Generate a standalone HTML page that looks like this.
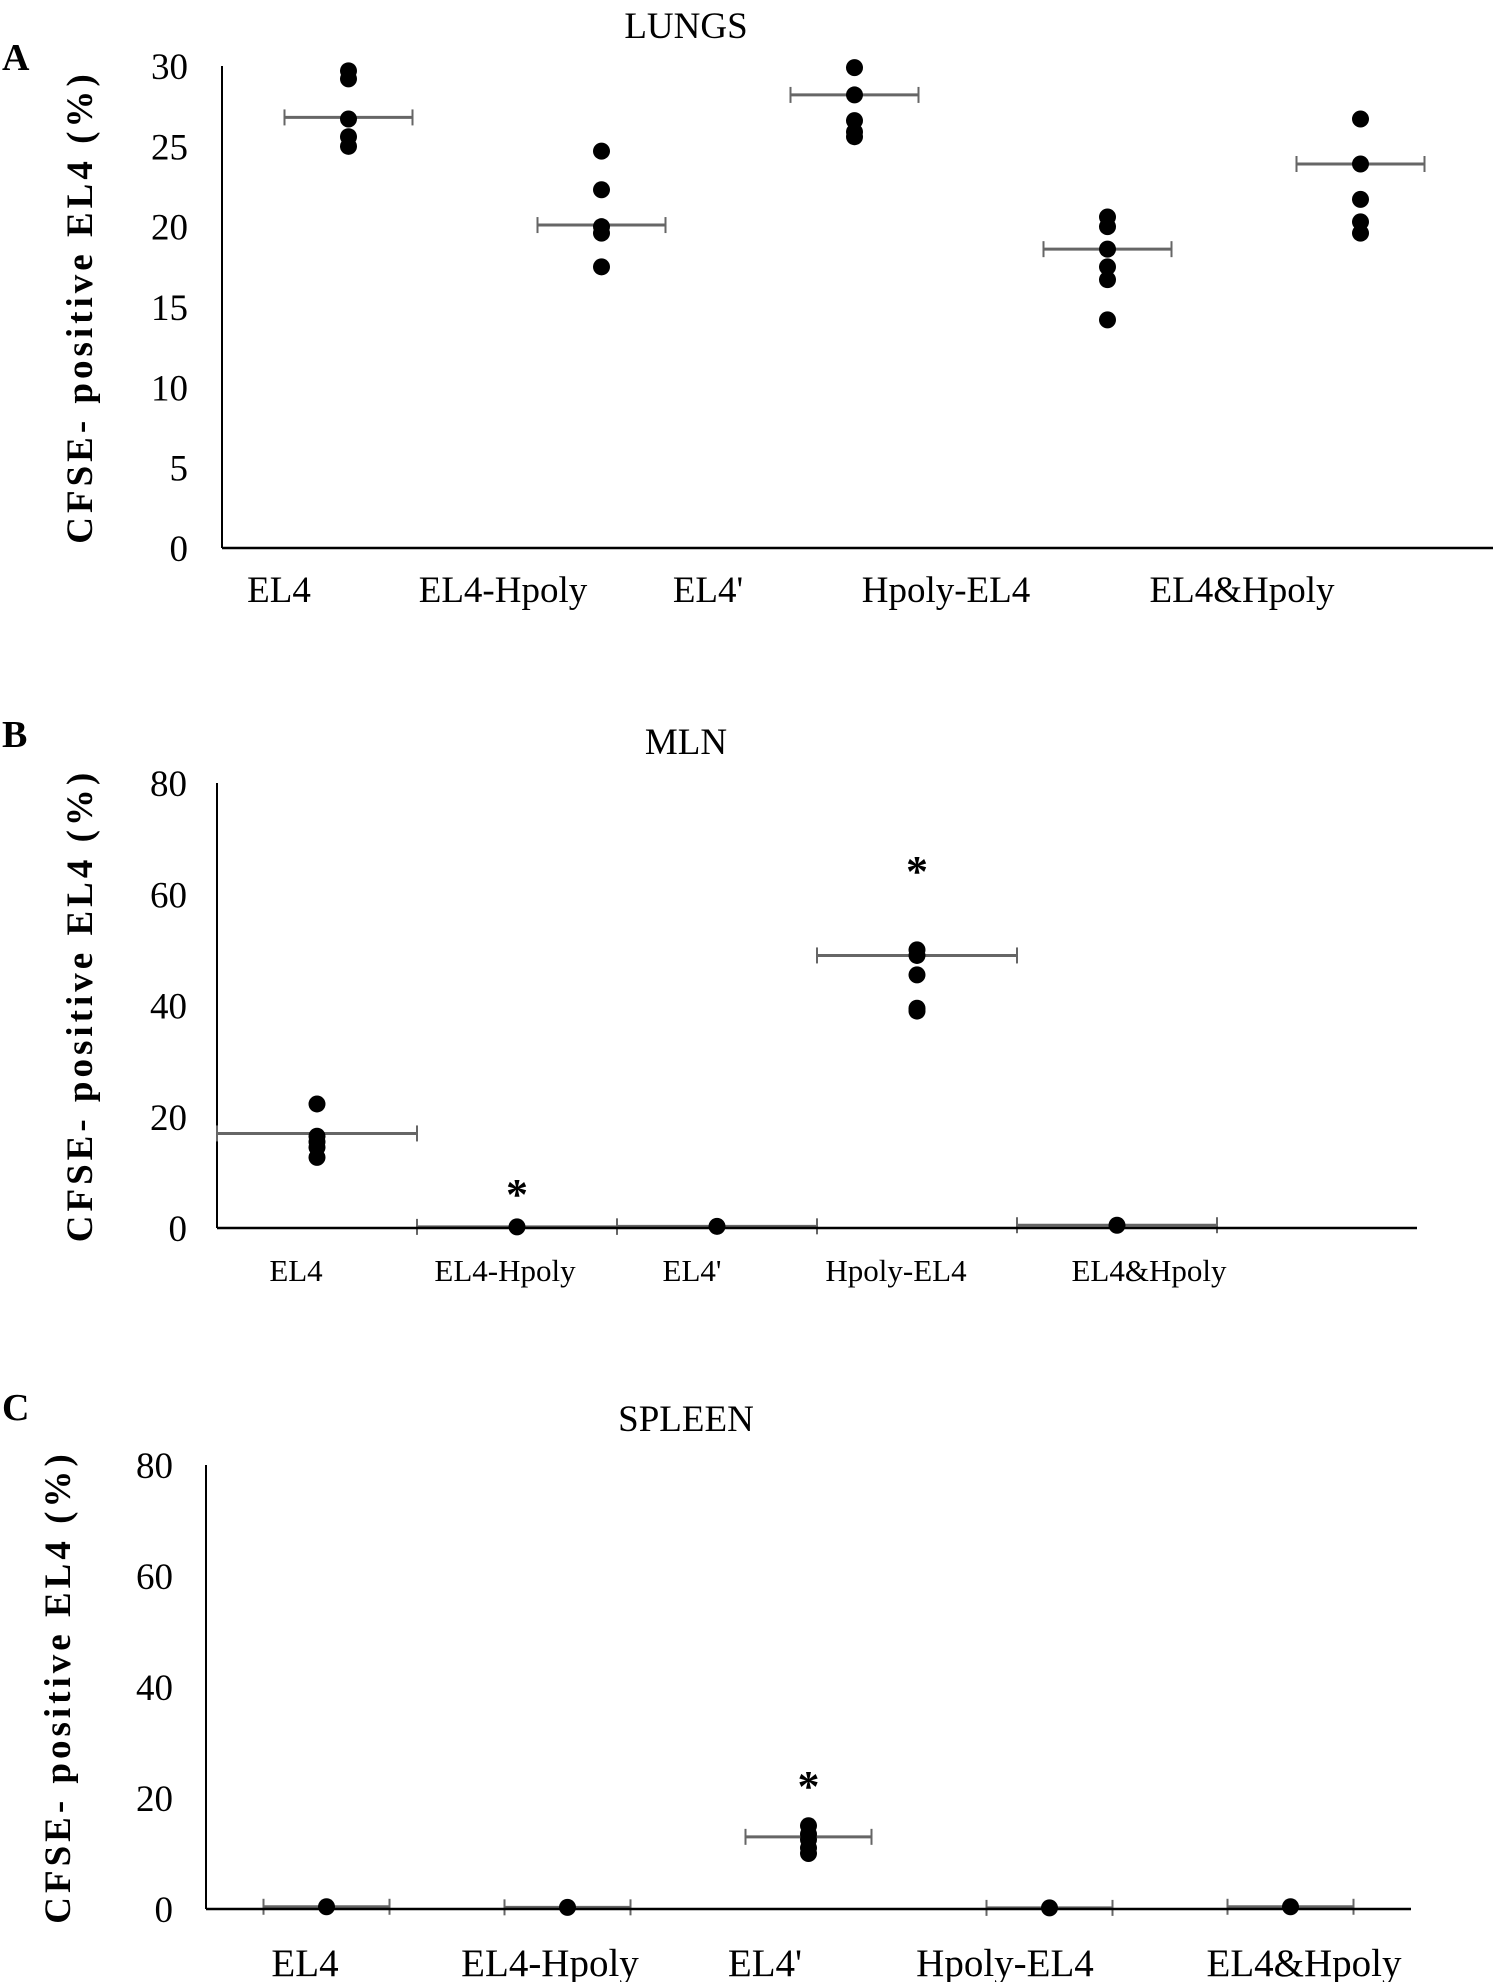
<!DOCTYPE html>
<html><head><meta charset="utf-8"><style>
body{margin:0;background:#fff}
svg{display:block}
text{font-family:"Liberation Serif",serif;fill:#000}
</style></head><body>
<svg id="fig" width="1498" height="1982" viewBox="0 0 1498 1982"></svg>
<script>
const categories=["EL4","EL4-Hpoly","EL4'","Hpoly-EL4","EL4&Hpoly"];
const lungsValues=[[29.7,29.2,26.7,25.6,25.0],[24.7,22.3,20.0,19.6,17.5],[29.9,28.2,26.6,25.9,25.6],[20.6,20.0,18.6,17.5,16.7,14.2],[26.7,23.9,21.7,20.3,19.6]];
const lungsMeans=[26.8,20.1,28.2,18.6,23.9];
const lungsTicks=[0,5,10,15,20,25,30];
const mlnValues=[[22.3,16.5,15.5,14.5,12.7],[0.2],[0.3],[50,49,45.5,39.5,39],[0.5]];
const mlnMeans=[17,0.2,0.3,49,0.5];
const mlnStars=[null,6.5,null,64.5,null];
const mlnTicks=[0,20,40,60,80];
const spleenValues=[[0.4],[0.3],[15,13.5,12.5,11,10],[0.2],[0.4]];
const spleenMeans=[0.4,0.3,13,0.2,0.4];
const spleenStars=[null,null,22.5,null,null];
const spleenTicks=[0,20,40,60,80];

const NS="http://www.w3.org/2000/svg";
const svg=document.getElementById('fig');
function el(tag,attrs,parent,txt){const e=document.createElementNS(NS,tag);for(const k in attrs)e.setAttribute(k,attrs[k]);if(txt!=null)e.textContent=txt;(parent||svg).appendChild(e);return e;}

function panel(cfg){
  const g=el('g',{});
  
  
  const y=v=>cfg.y0-(v-cfg.min)/(cfg.max-cfg.min)*(cfg.y0-cfg.yTop);
  const x=i=>cfg.ax+(i+0.5)*cfg.slot;
  const lt=el('text',{x:cfg.letter[0],y:cfg.letter[1],'font-size':38,'font-weight':'bold'},g,cfg.letterText);
  
  const tt=el('text',{x:686,y:cfg.titleY,'font-size':37,'text-anchor':'middle'},g,cfg.title);
  
  const yt=el('text',{x:0,y:0,'font-size':37,'font-weight':'bold','text-anchor':'middle',transform:`translate(${cfg.ytx},${(cfg.y0+cfg.yTop)/2}) rotate(-90)`,'letter-spacing':'4'},g,'CFSE- positive EL4 (%)');
  
  cfg.ticks.forEach(t=>{
    const tl=el('text',{x:cfg.tickR,y:y(t)+13,'font-size':37,'text-anchor':'end'},g,String(t));
    
  });
  const ya=el('line',{x1:cfg.ax,y1:cfg.yTop,x2:cfg.ax,y2:cfg.y0,stroke:'#000','stroke-width':2},g);
  
  cfg.means.forEach((m,i)=>{
    const hw=cfg.hw,cx=x(i),my=y(m);
    const ml=el('line',{x1:cx-hw,y1:my,x2:cx+hw,y2:my,stroke:'#666','stroke-width':3},g);
    
    [cx-hw,cx+hw].forEach(ex=>{
      const c=el('line',{x1:ex,y1:my-8,x2:ex,y2:my+8,stroke:'#666','stroke-width':2},g);
      
    });
  });
  const xa=el('line',{x1:cfg.ax,y1:cfg.y0,x2:cfg.xEnd,y2:cfg.y0,stroke:'#000','stroke-width':2.5},g);
  
  cfg.values.forEach((arr,i)=>arr.forEach(v=>{
    const d=el('circle',{cx:x(i),cy:y(v),r:8.5,fill:'#000'},g);
    
  }));
  (cfg.stars||[]).forEach((s,i)=>{if(s==null)return;
    const st=el('text',{x:x(i),y:y(s)+17,'font-size':44,'font-weight':'bold','text-anchor':'middle'},g,'*');
    
  });
  categories.forEach((c,i)=>{
    const cl=el('text',{x:cfg.labelX[i],y:cfg.labelY,'font-size':cfg.labelFs,'text-anchor':'middle'},g,c);
    
  });
}

panel({name:'lungs-chart',letterText:'A',letter:[2,70],title:'LUNGS',titleY:38,min:0,max:30,y0:548,yTop:66,ax:222,slot:253,xEnd:1493,hw:64,
  ticks:lungsTicks,values:lungsValues,means:lungsMeans,ytx:92,tickR:188,
  labelX:[279,503,708,946,1242],labelY:602,labelFs:37});
panel({name:'mln-chart',letterText:'B',letter:[2,747],title:'MLN',titleY:754,min:0,max:80,y0:1228,yTop:783,ax:217,slot:200,xEnd:1417,hw:100,
  ticks:mlnTicks,values:mlnValues,means:mlnMeans,stars:mlnStars,ytx:92,tickR:187,
  labelX:[296,505,692,896,1149],labelY:1281,labelFs:31});
panel({name:'spleen-chart',letterText:'C',letter:[2,1420],title:'SPLEEN',titleY:1431,min:0,max:80,y0:1909,yTop:1465,ax:206,slot:241,xEnd:1411,hw:63,
  ticks:spleenTicks,values:spleenValues,means:spleenMeans,stars:spleenStars,ytx:70,tickR:173,
  labelX:[305,550,765,1005,1304],labelY:1976,labelFs:39});
</script>
</body></html>
